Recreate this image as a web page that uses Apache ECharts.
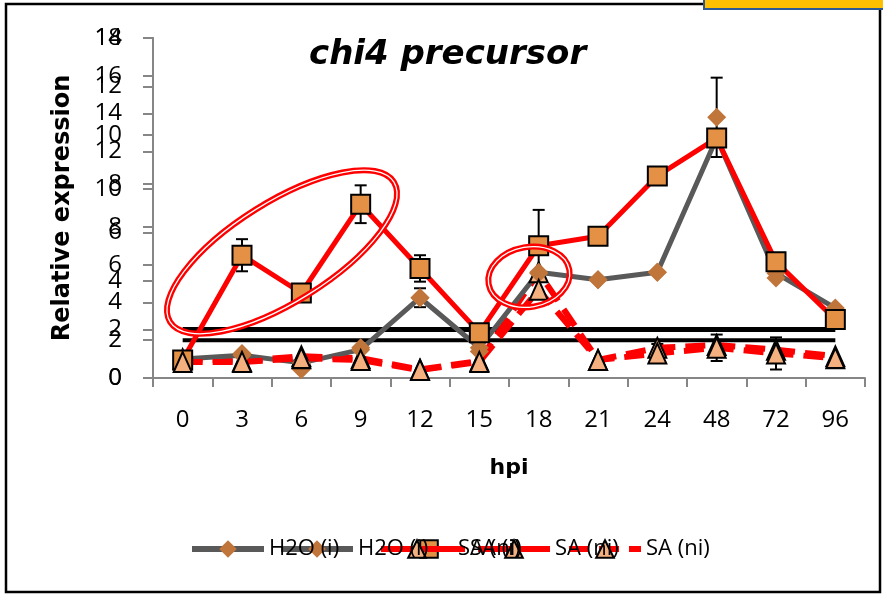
<!DOCTYPE html>
<html>
<head>
<meta charset="utf-8">
<script src="https://cdn.jsdelivr.net/npm/echarts@6/dist/echarts.min.js"></script>
<style>
  html, body { margin: 0; padding: 0; background: #ffffff; }
  #main { width: 883px; height: 595px; }
</style>
</head>
<body>
<div id="main"></div>
<script>
// Sampling times (hours post inoculation)
const hpi = ['0', '3', '6', '9', '12', '15', '18', '21', '24', '48', '72', '96'];

// Relative expression, water-treated plants (two replicate sets)
const h2oLine = [1.0, 1.2, 0.8, 1.5, 4.25, 1.6, 5.6, 5.2, 5.6, 12.7, 5.55, 3.7];
const h2oMarks = [1.0, 1.3, 0.45, 1.6, 4.25, 1.4, 5.55, 5.2, 5.6, 13.8, 5.3, 3.55];
const h2oMarksErr = [0, 0, 0, 0, 0.5, 0, 0, 0, 0, 2.1, 0, 0];

// Salicylic acid, inoculated
const saInduced = [0.95, 6.5, 4.5, 9.2, 5.8, 2.4, 7.0, 7.5, 10.7, 12.7, 6.15, 3.1];
const saInducedErr = [0, 0.85, 0, 1.0, 0.7, 0, 1.9, 0.25, 0.3, 0, 0, 0];

// Salicylic acid, non-inoculated (two replicate sets)
const saNonInduced = [0.85, 0.85, 1.05, 0.95, 0.42, 0.85, 4.67, 0.95, 1.3, 1.6, 1.3, 1.05];
const saNonInducedErr = [0, 0, 0, 0, 0, 0, 0, 0, 0.5, 0.7, 0.85, 0];
const saNonInducedRep = [1.0, 0.9, 1.15, 1.05, 0.45, 0.9, 5.6, 0.95, 1.6, 1.75, 1.5, 1.15];

// Two-fold induction cut-off on each value axis
const cutoffOuter = [2, 2, 2, 2, 2, 2, 2, 2, 2, 2, 2, 2];
const cutoffInner = [2, 2, 2, 2, 2, 2, 2, 2, 2, 2, 2, 2];

// Value axis ranges: [min, max, step]
const axisOuter = [0, 18, 2];
const axisInner = [0, 14, 2];

const C_GRAY = '#595959';
const C_RED = '#FF0000';
const C_SQUARE = '#E59145';
const C_DIAMOND = '#C0753A';
const C_TRIANGLE = '#F5B080';
const AXIS_GRAY = '#868686';
const LABEL_FONT = 'Open Sans';

function errorBars(values, errs) {
  const rows = [];
  values.forEach(function (v, i) { if (errs[i] > 0) rows.push([i, v, errs[i]]); });
  return {
    type: 'custom',
    name: 'err',
    yAxisIndex: 0,
    silent: true,
    data: rows,
    encode: { x: 0, y: 1 },
    renderItem: function (params, api) {
      const i = api.value(0), v = api.value(1), e = api.value(2);
      const hi = api.coord([i, v + e]);
      const lo = api.coord([i, v - e]);
      const w = 6;
      const st = { stroke: '#000', lineWidth: 2 };
      return {
        type: 'group',
        children: [
          { type: 'line', shape: { x1: hi[0], y1: hi[1], x2: lo[0], y2: lo[1] }, style: st },
          { type: 'line', shape: { x1: hi[0] - w, y1: hi[1], x2: hi[0] + w, y2: hi[1] }, style: st },
          { type: 'line', shape: { x1: lo[0] - w, y1: lo[1], x2: lo[0] + w, y2: lo[1] }, style: st }
        ]
      };
    }
  };
}

const legendBase = {
  top: 538,
  padding: 0,
  itemWidth: 72,
  itemHeight: 22,
  itemGap: 0,
  selectedMode: false,
  lineStyle: { width: 6 },
  itemStyle: { borderWidth: 'inherit' },
  textStyle: { fontFamily: LABEL_FONT, fontSize: 22, color: '#000' }
};

// Legend entries overlap one another; earlier entries stay on top
function legendAt(left, z, item) {
  return Object.assign({}, legendBase, { left: left, z: z, data: [item] });
}

const chart = echarts.init(document.getElementById('main'), null, { renderer: 'canvas' });

chart.setOption({
  animation: false,
  backgroundColor: '#ffffff',
  title: {
    text: 'chi4 precursor',
    left: 304,
    top: 33,
    textStyle: { fontFamily: 'DejaVu Sans', fontStyle: 'italic', fontWeight: 'bold', fontSize: 34, color: '#000' }
  },
  legend: [
    legendAt(189, 20, { name: 'H2O (i)' }),
    legendAt(278, 19, { name: 'H2O (i)' }),
    legendAt(378, 18, { name: 'SA (ni)', lineStyle: { type: 'solid' } }),
    legendAt(390, 17, { name: 'SA (i)' }),
    legendAt(475, 16, { name: 'SA (ni)', lineStyle: { type: 'solid' } }),
    legendAt(566, 15, { name: 'SA (ni)' })
  ],
  grid: { left: 153, right: 18, top: 38, bottom: 217, containLabel: false },
  xAxis: {
    type: 'category',
    data: hpi,
    boundaryGap: true,
    name: 'hpi',
    nameLocation: 'middle',
    nameGap: 79,
    nameTextStyle: { fontFamily: 'DejaVu Sans', fontWeight: 'bold', fontSize: 22, color: '#000' },
    axisLine: { lineStyle: { color: AXIS_GRAY, width: 2 } },
    axisTick: { show: true, length: 9, lineStyle: { color: AXIS_GRAY, width: 2 } },
    axisLabel: { interval: 0, margin: 30, fontFamily: LABEL_FONT, fontSize: 24, color: '#000' },
    splitLine: { show: false }
  },
  yAxis: [
    {
      type: 'value',
      position: 'left',
      min: axisOuter[0], max: axisOuter[1], interval: axisOuter[2],
      name: 'Relative expression',
      nameLocation: 'middle',
      nameRotate: 90,
      nameGap: 78,
      nameTextStyle: { fontFamily: 'DejaVu Sans', fontWeight: 'bold', fontSize: 24, color: '#000' },
      axisLine: { show: true, lineStyle: { color: AXIS_GRAY, width: 2 } },
      axisTick: { show: true, length: 10, lineStyle: { color: AXIS_GRAY, width: 2 } },
      axisLabel: { margin: 31, fontFamily: LABEL_FONT, fontSize: 24, color: '#000' },
      splitLine: { show: false }
    },
    {
      type: 'value',
      position: 'left',
      offset: 0,
      min: axisInner[0], max: axisInner[1], interval: axisInner[2],
      axisLine: { show: true, lineStyle: { color: AXIS_GRAY, width: 2 } },
      axisTick: { show: true, length: 10, lineStyle: { color: AXIS_GRAY, width: 2 } },
      axisLabel: { margin: 31, fontFamily: LABEL_FONT, fontSize: 24, color: '#000' },
      splitLine: { show: false }
    }
  ],
  series: [
    {
      name: 'cutoff-inner', type: 'line', yAxisIndex: 1, data: cutoffInner,
      symbol: 'none', silent: true,
      lineStyle: { color: '#000', width: 5 }
    },
    {
      name: 'cutoff-outer', type: 'line', yAxisIndex: 0, data: cutoffOuter,
      symbol: 'none', silent: true,
      lineStyle: { color: '#000', width: 4 }
    },
    errorBars(saInduced, saInducedErr),
    errorBars(h2oMarks, h2oMarksErr),
    errorBars(saNonInduced, saNonInducedErr),
    {
      name: 'SA (ni)', type: 'line', yAxisIndex: 0, data: saNonInducedRep,
      symbol: 'triangle', symbolSize: [18, 20],
      itemStyle: { color: C_TRIANGLE, borderColor: '#000', borderWidth: 2 },
      lineStyle: { color: C_RED, width: 6, type: [20, 10] }
    },
    {
      name: 'H2O (i)', type: 'line', yAxisIndex: 0, data: h2oLine,
      symbol: 'diamond', symbolSize: 19,
      itemStyle: { color: C_DIAMOND, borderWidth: 0 },
      lineStyle: { color: C_GRAY, width: 5 }
    },
    {
      name: 'H2O (i)', type: 'line', yAxisIndex: 0, data: h2oMarks,
      symbol: 'diamond', symbolSize: 19,
      itemStyle: { color: C_DIAMOND, borderWidth: 0 },
      lineStyle: { color: C_GRAY, width: 5, opacity: 0 }
    },
    {
      name: 'SA (i)', type: 'line', yAxisIndex: 0, data: saInduced,
      symbol: 'rect', symbolSize: 19,
      itemStyle: { color: C_SQUARE, borderColor: '#000', borderWidth: 2 },
      lineStyle: { color: C_RED, width: 5 }
    },
    {
      name: 'SA (ni)', type: 'line', yAxisIndex: 0, data: saNonInduced,
      symbol: 'triangle', symbolSize: [18, 20],
      itemStyle: { color: C_TRIANGLE, borderColor: '#000', borderWidth: 2 },
      lineStyle: { color: C_RED, width: 6, type: [20, 10] }
    }
  ],
  graphic: [
    {
      type: 'rect', z: 100, silent: true,
      shape: { x: 6, y: 4, width: 874, height: 588 },
      style: { fill: 'none', stroke: '#000', lineWidth: 2.5 }
    },
    {
      type: 'rect', z: 101, silent: true,
      shape: { x: 704, y: -10, width: 200, height: 19 },
      style: { fill: '#FFC000', stroke: '#2E5A94', lineWidth: 2 }
    },
    {
      type: 'ellipse', z: 100, silent: true, x: 282, y: 252, rotation: 32 * Math.PI / 180,
      shape: { cx: 0, cy: 0, rx: 132, ry: 50 },
      style: { fill: 'none', stroke: C_RED, lineWidth: 6 }
    },
    {
      type: 'ellipse', z: 101, silent: true, x: 282, y: 252, rotation: 32 * Math.PI / 180,
      shape: { cx: 0, cy: 0, rx: 132, ry: 50 },
      style: { fill: 'none', stroke: '#ffffff', lineWidth: 1.3 }
    },
    {
      type: 'ellipse', z: 100, silent: true, x: 529, y: 277, rotation: 10 * Math.PI / 180,
      shape: { cx: 0, cy: 0, rx: 41, ry: 30 },
      style: { fill: 'none', stroke: C_RED, lineWidth: 6 }
    },
    {
      type: 'ellipse', z: 101, silent: true, x: 529, y: 277, rotation: 10 * Math.PI / 180,
      shape: { cx: 0, cy: 0, rx: 41, ry: 30 },
      style: { fill: 'none', stroke: '#ffffff', lineWidth: 1.3 }
    }
  ]
});
</script>
</body>
</html>
